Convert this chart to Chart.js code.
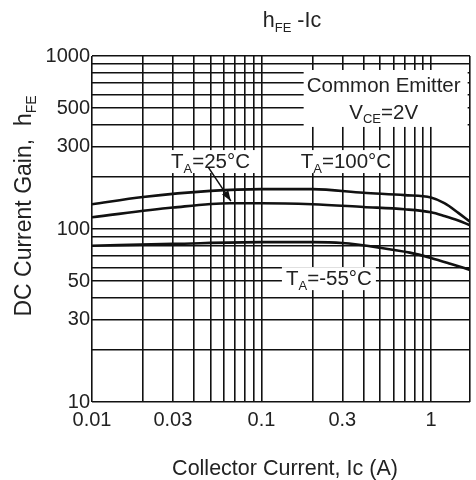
<!DOCTYPE html>
<html>
<head>
<meta charset="utf-8">
<script src="https://cdn.jsdelivr.net/npm/chart.js@4.4.1/dist/chart.umd.min.js"></script>
<style>
  html, body { margin: 0; padding: 0; background: #fff; }
</style>
</head>
<body>
<canvas id="c" width="476" height="480"></canvas>
<script>
// curves: Ic (A) -> hFE
const ic100 = [0.01, 0.02, 0.05, 0.1, 0.2, 0.4, 0.7, 1.0, 1.2, 1.45, 1.7];
const hfe100 = [139, 153, 166, 170, 170, 162, 157, 152, 141, 124, 110];
const ic25 = [0.01, 0.03, 0.065, 0.1, 0.2, 0.4, 0.7, 1.0, 1.2, 1.45, 1.7];
const hfe25 = [117, 133, 141, 141, 139, 134, 130, 125, 119, 112, 105];
const icM55 = [0.01, 0.03, 0.1, 0.2, 0.3, 0.5, 0.75, 1.0, 1.3, 1.7];
const hfeM55 = [80, 82, 84, 84, 83, 78, 73, 68, 63, 58];

// grid lines and labelled ticks
const xGrid = [0.01, 0.02, 0.03, 0.04, 0.05, 0.06, 0.07, 0.08, 0.09,
               0.1, 0.2, 0.3, 0.4, 0.5, 0.6, 0.7, 0.8, 0.9, 1, 1.7];
const yGrid = [10, 20, 30, 40, 50, 60, 70, 80, 90,
               100, 200, 300, 400, 500, 600, 700, 800, 900, 1000];
const xLabels = ["0.01", "0.03", "0.1", "0.3", "1"];
const yLabels = ["10", "30", "50", "100", "300", "500", "1000"];

const FONT = '"Liberation Sans", Arial, sans-serif';
const INK = "#222";

function pts(xs, ys) {
  return xs.map((x, i) => ({ x: x, y: ys[i] }));
}

function labelFor(list, v) {
  const hit = list.find(s => Math.abs(parseFloat(s) - v) / v < 1e-6);
  return hit || "";
}

// text with subscripts: parts = [[text, isSub], ...]
function drawRich(ctx, parts, x, y, size, align) {
  const widths = parts.map(p => {
    ctx.font = (p[1] ? Math.round(size * 0.62) : size) + "px " + FONT;
    return ctx.measureText(p[0]).width;
  });
  const total = widths.reduce((a, b) => a + b, 0);
  let cx = align === "center" ? x - total / 2 : x;
  ctx.textAlign = "left";
  ctx.textBaseline = "alphabetic";
  parts.forEach((p, i) => {
    ctx.font = (p[1] ? Math.round(size * 0.62) : size) + "px " + FONT;
    ctx.fillText(p[0], cx, y + (p[1] ? size * 0.22 : 0));
    cx += widths[i];
  });
  return total;
}

const notes = [
  { x: 0.05, y: 247, parts: [["T", false], ["A", true], ["=25°C", false]] },
  { x: 0.315, y: 247, parts: [["T", false], ["A", true], ["=100°C", false]] },
  { x: 0.25, y: 52, parts: [["T", false], ["A", true], ["=-55°C", false]] }
];

const annotate = {
  id: "annotate",
  beforeDatasetsDraw(chart) {
    const { ctx, scales: { x, y } } = chart;
    ctx.save();
    ctx.fillStyle = "#fff";
    // Common Emitter box
    const bx = x.getPixelForValue(0.526), by1 = y.getPixelForValue(680), by2 = y.getPixelForValue(475);
    ctx.fillRect(bx - 80, by1 - 15, 164, by2 - by1 + 30);
    ctx.fillStyle = INK;
    drawRich(ctx, [["Common Emitter", false]], bx, by1 + 7, 20.5, "center");
    drawRich(ctx, [["V", false], ["CE", true], ["=2V", false]], bx, by2 + 7, 20.5, "center");
    notes.forEach(n => {
      const px = x.getPixelForValue(n.x), py = y.getPixelForValue(n.y);
      ctx.fillStyle = "#fff";
      ctx.fillRect(px - 47, py - 11, 94, 23);
      ctx.fillStyle = INK;
      drawRich(ctx, n.parts, px, py + 7, 20.5, "center");
    });
    ctx.restore();
  },
  afterDatasetsDraw(chart) {
    const { ctx, scales: { x, y } } = chart;
    const x0 = x.getPixelForValue(0.0485), y0 = y.getPixelForValue(228);
    const x1 = x.getPixelForValue(0.066), y1 = y.getPixelForValue(145);
    ctx.save();
    ctx.strokeStyle = "#111";
    ctx.fillStyle = "#111";
    ctx.lineWidth = 1.5;
    ctx.beginPath();
    ctx.moveTo(x0, y0);
    ctx.lineTo(x1, y1);
    ctx.stroke();
    const a = Math.atan2(y1 - y0, x1 - x0);
    ctx.beginPath();
    ctx.moveTo(x1, y1);
    ctx.lineTo(x1 - 11 * Math.cos(a - 0.35), y1 - 11 * Math.sin(a - 0.35));
    ctx.lineTo(x1 - 11 * Math.cos(a + 0.35), y1 - 11 * Math.sin(a + 0.35));
    ctx.closePath();
    ctx.fill();
    ctx.restore();
  },
  afterDraw(chart) {
    const ctx = chart.ctx;
    ctx.save();
    ctx.fillStyle = INK;
    drawRich(ctx, [["h", false], ["FE", true], [" -Ic", false]], 292, 27, 21.5, "center");
    drawRich(ctx, [["Collector Current, Ic (A)", false]], 285, 475, 21.5, "center");
    ctx.translate(31, 206);
    ctx.rotate(-Math.PI / 2);
    drawRich(ctx, [["DC Current Gain,  h", false], ["FE", true]], 0, 0, 23, "center");
    ctx.restore();
  }
};

const line = (data) => ({
  data: data,
  showLine: true,
  borderColor: "#111",
  borderWidth: 2.6,
  pointRadius: 0,
  cubicInterpolationMode: "monotone",
  fill: false
});

new Chart(document.getElementById("c"), {
  type: "scatter",
  plugins: [annotate],
  data: {
    datasets: [line(pts(ic100, hfe100)), line(pts(ic25, hfe25)), line(pts(icM55, hfeM55))]
  },
  options: {
    responsive: false,
    animation: false,
    layout: { padding: { top: 56, right: 3, left: 0, bottom: 0 } },
    plugins: { legend: { display: false }, tooltip: { enabled: false } },
    scales: {
      x: {
        type: "logarithmic",
        min: 0.01,
        max: 1.7,
        afterBuildTicks: s => { s.ticks = xGrid.map(v => ({ value: v })); },
        afterFit: s => { s.height = 78; },
        border: { display: false },
        grid: { color: "#111", lineWidth: 1.6, drawTicks: false },
        ticks: {
          autoSkip: false, maxRotation: 0, padding: 6, color: INK,
          font: { family: FONT, size: 20 },
          callback: v => labelFor(xLabels, v)
        }
      },
      y: {
        type: "logarithmic",
        min: 10,
        max: 1000,
        afterBuildTicks: s => { s.ticks = yGrid.map(v => ({ value: v })); },
        afterFit: s => { s.width = 92; },
        border: { display: false },
        grid: { color: "#111", lineWidth: 1.6, drawTicks: false },
        ticks: {
          autoSkip: false, padding: 2, color: INK,
          font: { family: FONT, size: 20 },
          callback: v => labelFor(yLabels, v)
        }
      }
    }
  }
});
</script>
</body>
</html>
